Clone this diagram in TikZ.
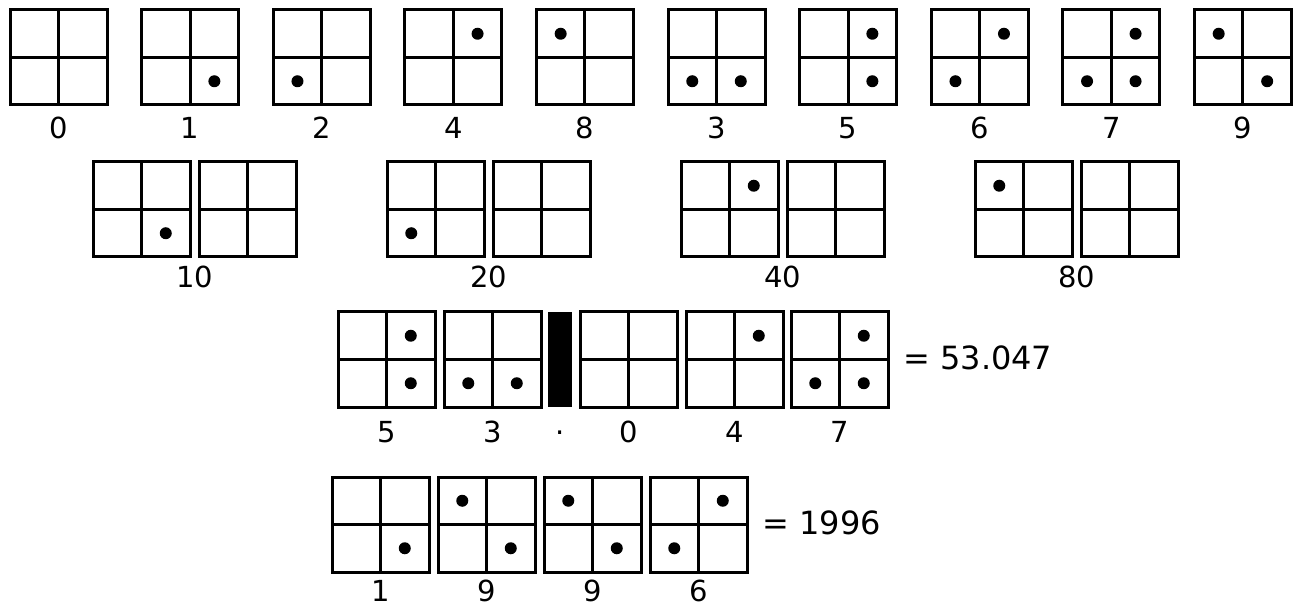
\documentclass[tikz,border=0pt]{standalone}
\usepackage{fontspec}
\setmainfont{DejaVu Sans}
\usetikzlibrary{positioning}

% one digit cell: 2x2 grid with dots, #4 = list of col/row (row 0 on top)
\newcommand{\digitbox}[4]{%
  \begin{scope}[shift={(#2,#3)}]
    \coordinate (#1) at (48.5,47.5);
    \draw[grid] (0,0) rectangle (97,95) (48.5,0) -- (48.5,95) (0,47.5) -- (97,47.5);
    \edef\dotlist{#4}%
    \foreach \cx/\cy in \dotlist {\ifx\cx\empty\else\fill (24.25+48.5*\cx,23.75+47.5*\cy) circle (3pt);\fi}
  \end{scope}}

\begin{document}
\begin{tikzpicture}[
    x=0.5pt, y=-0.5pt,
    grid/.style={line width=1.5pt},
    lbl/.style={font=\fontsize{14.5}{17}\selectfont, inner sep=0pt},
    eqn/.style={font=\fontsize{16}{19}\selectfont, inner sep=0pt, anchor=west},
  ]
  \useasboundingbox (0,0) rectangle (1293,608);

  % single digits
  \foreach \n/\d [count=\k from 0] in {0/{},1/{1/1},2/{0/1},4/{1/0},8/{0/0},3/{0/1,1/1},5/{1/0,1/1},6/{1/0,0/1},7/{1/0,0/1,1/1},9/{0/0,1/1}} {
    \digitbox{a\n}{10+131.6*\k}{10}{\d}
    \node[lbl] (la\n) at (58.5+131.6*\k,128) {\n};
  }

  % tens
  \foreach \n/\d [count=\k from 0] in {10/{1/1},20/{0/1},40/{1/0},80/{0/0}} {
    \digitbox{b\n}{93+294*\k}{162}{\d}
    \digitbox{bz\n}{199+294*\k}{162}{}
    \node[lbl] (lb\n) at (194.5+294*\k,277) {\n};
  }

  % 53.047
  \digitbox{c1}{338}{312}{1/0,1/1}
  \digitbox{c2}{444}{312}{0/1,1/1}
  \fill (548,312) rectangle (572,407);
  \digitbox{c3}{580}{312}{}
  \digitbox{c4}{686}{312}{1/0}
  \digitbox{c5}{791}{312}{1/0,0/1,1/1}
  \node[lbl] (lc1) at (386.5,432) {5};
  \node[lbl] (lc2) at (492.5,432) {3};
  \node[lbl] (lcp) at (560,433) {.};
  \node[lbl] (lc3) at (628.5,432) {0};
  \node[lbl] (lc4) at (734.5,432) {4};
  \node[lbl] (lc5) at (839.5,432) {7};
  \node[eqn] (sum1) at (903,358) {= 53.047};

  % 1996
  \digitbox{d1}{332}{477}{1/1}
  \digitbox{d2}{438}{477}{0/0,1/1}
  \digitbox{d3}{544}{477}{0/0,1/1}
  \digitbox{d4}{650}{477}{1/0,0/1}
  \node[lbl] (ld1) at (380.5,591) {1};
  \node[lbl] (ld2) at (486.5,591) {9};
  \node[lbl] (ld3) at (592.5,591) {9};
  \node[lbl] (ld4) at (698.5,591) {6};
  \node[eqn] (sum2) at (762,523) {= 1996};
\end{tikzpicture}
\end{document}
